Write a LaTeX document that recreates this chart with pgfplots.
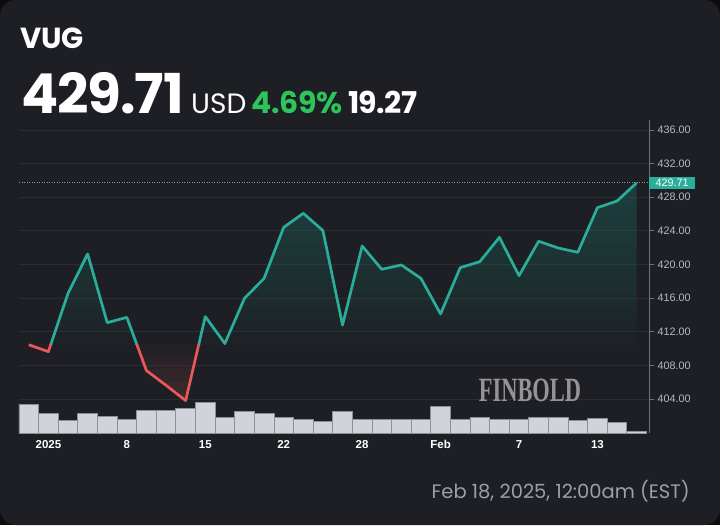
\documentclass[border=0pt]{standalone}
\usepackage{fontspec}
\usepackage{pgfplots}
\pgfplotsset{compat=1.18}
\setmainfont{Liberation Sans}
\newfontfamily\pop{Poppins}
\newfontfamily\serifmark{Liberation Serif}

\definecolor{bgc}{HTML}{1D1F24}
\definecolor{gridc}{HTML}{2A2D33}
\definecolor{tealc}{HTML}{2AAD9A}
\definecolor{redc}{HTML}{E8585A}
\definecolor{barc}{HTML}{D1D3DB}
\definecolor{barb}{HTML}{8C8F98}
\definecolor{axisc}{HTML}{70737B}
\definecolor{tickc}{HTML}{B7BAC2}
\definecolor{footc}{HTML}{9C9FA8}
\definecolor{greenc}{HTML}{2DC45A}
\definecolor{dotc}{HTML}{8E9A9C}

% price, VUG daily close
\pgfplotstableread{
i price
0 410.44
1 409.63
2 416.57
3 421.25
4 413.08
5 413.71
6 407.37
7 405.62
8 403.80
9 413.80
10 410.60
11 415.97
12 418.35
13 424.42
14 426.09
15 424.03
16 412.80
17 422.20
18 419.43
19 419.94
20 418.35
21 414.11
22 419.62
23 420.33
24 423.23
25 418.67
26 422.76
27 421.96
28 421.45
29 426.76
30 427.55
31 429.71
}\price

% volume, millions
\pgfplotstableread{
i vol
0 1.45
1 0.99
2 0.65
3 0.99
4 0.85
5 0.70
6 1.15
7 1.15
8 1.24
9 1.55
10 0.79
11 1.07
12 0.99
13 0.79
14 0.69
15 0.60
16 1.07
17 0.69
18 0.70
19 0.69
20 0.69
21 1.32
22 0.69
23 0.77
24 0.69
25 0.69
26 0.77
27 0.80
28 0.62
29 0.75
30 0.52
31 0.07
}\volume

\begin{document}
\begin{tikzpicture}
\fill[black!95] (0,0) rectangle (720pt,525pt);
\fill[bgc, rounded corners=16pt] (0,0) rectangle (720pt,525pt);

% header
\node[anchor=base west, inner sep=0, text=white, font=\pop\bfseries\fontsize{29}{30}\selectfont] at (20pt,476pt) {VUG};
\node[anchor=base west, inner sep=0, text=white, font=\pop\bfseries\fontsize{55}{56}\selectfont\addfontfeature{LetterSpace=-2}] at (21pt,411pt) {429.71};
\node[anchor=base west, inner sep=0, text=white, font=\pop\fontsize{28}{29}\selectfont] at (191pt,411pt) {USD};
\node[anchor=base west, inner sep=0, text=greenc, font=\pop\bfseries\fontsize{30}{31}\selectfont\addfontfeature{LetterSpace=-1}] at (251pt,411pt) {4.69\%};
\node[anchor=base west, inner sep=0, text=white, font=\pop\bfseries\fontsize{30}{31}\selectfont\addfontfeature{LetterSpace=-2}] at (348pt,411pt) {19.27};

% footer
\node[anchor=base east, inner sep=0, text=footc, font=\pop\fontsize{19.5}{20}\selectfont] at (690pt,27pt) {Feb 18, 2025, 12:00am (EST)};

% volume bars
\begin{axis}[
  at={(19pt,92pt)}, anchor=south west, scale only axis,
  width=630pt, height=313pt,
  xmin=-0.5, xmax=31.63, ymin=0, ymax=15.65,
  hide axis, ybar, bar width=1,
]
\addplot[fill=barc, draw=barb, line width=0.8pt] table[x=i, y=vol] {\volume};
\end{axis}

% price
\begin{axis}[
  at={(19pt,92pt)}, anchor=south west, scale only axis,
  width=630pt, height=313pt,
  xmin=-0.5, xmax=31.63, ymin=399.95, ymax=437.19,
  axis y line*=right, axis x line*=bottom,
  x axis line style={draw=none},
  y axis line style={draw=axisc, line width=0.8pt},
  xtick={1,5,9,13,17,21,25,29},
  xticklabels={2025,8,15,22,28,Feb,7,13},
  ytick={404,408,...,436},
  tick align=outside, major tick length=5pt,
  x tick style={draw=none},
  y tick style={draw=axisc, line width=0.8pt},
  ymajorgrids, major grid style={draw=gridc, line width=0.8pt},
  /pgf/number format/.cd, fixed, fixed zerofill, precision=2, 1000 sep={}, assume math mode=true, /pgfplots/.cd,
  xticklabel style={text=white, font=\bfseries\fontsize{11.5}{12}\selectfont, yshift=1pt},
  yticklabel style={text=tickc, font=\fontsize{10.8}{11}\selectfont},
  extra y ticks={429.71},
  extra y tick style={
    major grid style={draw=dotc, dash pattern=on 1pt off 1.5pt, line width=0.8pt},
    y tick style={draw=none},
    yticklabel style={fill=tealc, text=white, inner xsep=6.5pt, inner ysep=2.5pt, xshift=-5pt},
  },
]
% stepped gradient between the line and the previous close (410.44)
\pgfplotsinvokeforeach{410.44,412,413.5,415,416.5,418,419.5,421,422.5,424,425.5,427,428.5}{
  \begin{scope}
  \clip (axis cs:-1,#1) rectangle (axis cs:33,440);
  \addplot[fill=tealc, fill opacity=0.022, draw=none, forget plot]
    table[x=i, y=price] {\price} |- (axis cs:0,395) -- cycle;
  \end{scope}
}
\pgfplotsinvokeforeach{410.44,409,407.5,406,404.5}{
  \begin{scope}
  \clip (axis cs:-1,395) rectangle (axis cs:33,#1);
  \addplot[fill=redc, fill opacity=0.04, draw=none, forget plot]
    table[x=i, y=price] {\price} |- (axis cs:0,440) -- cycle;
  \end{scope}
}
\begin{scope}
\clip (axis cs:-1,410.44) rectangle (axis cs:33,440);
\addplot[tealc, line width=2.7pt, line join=round] table[x=i, y=price] {\price};
\end{scope}
\begin{scope}
\clip (axis cs:-1,395) rectangle (axis cs:33,410.44);
\addplot[redc, line width=2.7pt, line join=round] table[x=i, y=price] {\price};
\end{scope}
\end{axis}

% watermark
\node[anchor=base, inner sep=0, text=black!42, xscale=0.66, font=\serifmark\bfseries\fontsize{34}{35}\selectfont] at (530pt,123pt) {FINBOLD};
\end{tikzpicture}
\end{document}
